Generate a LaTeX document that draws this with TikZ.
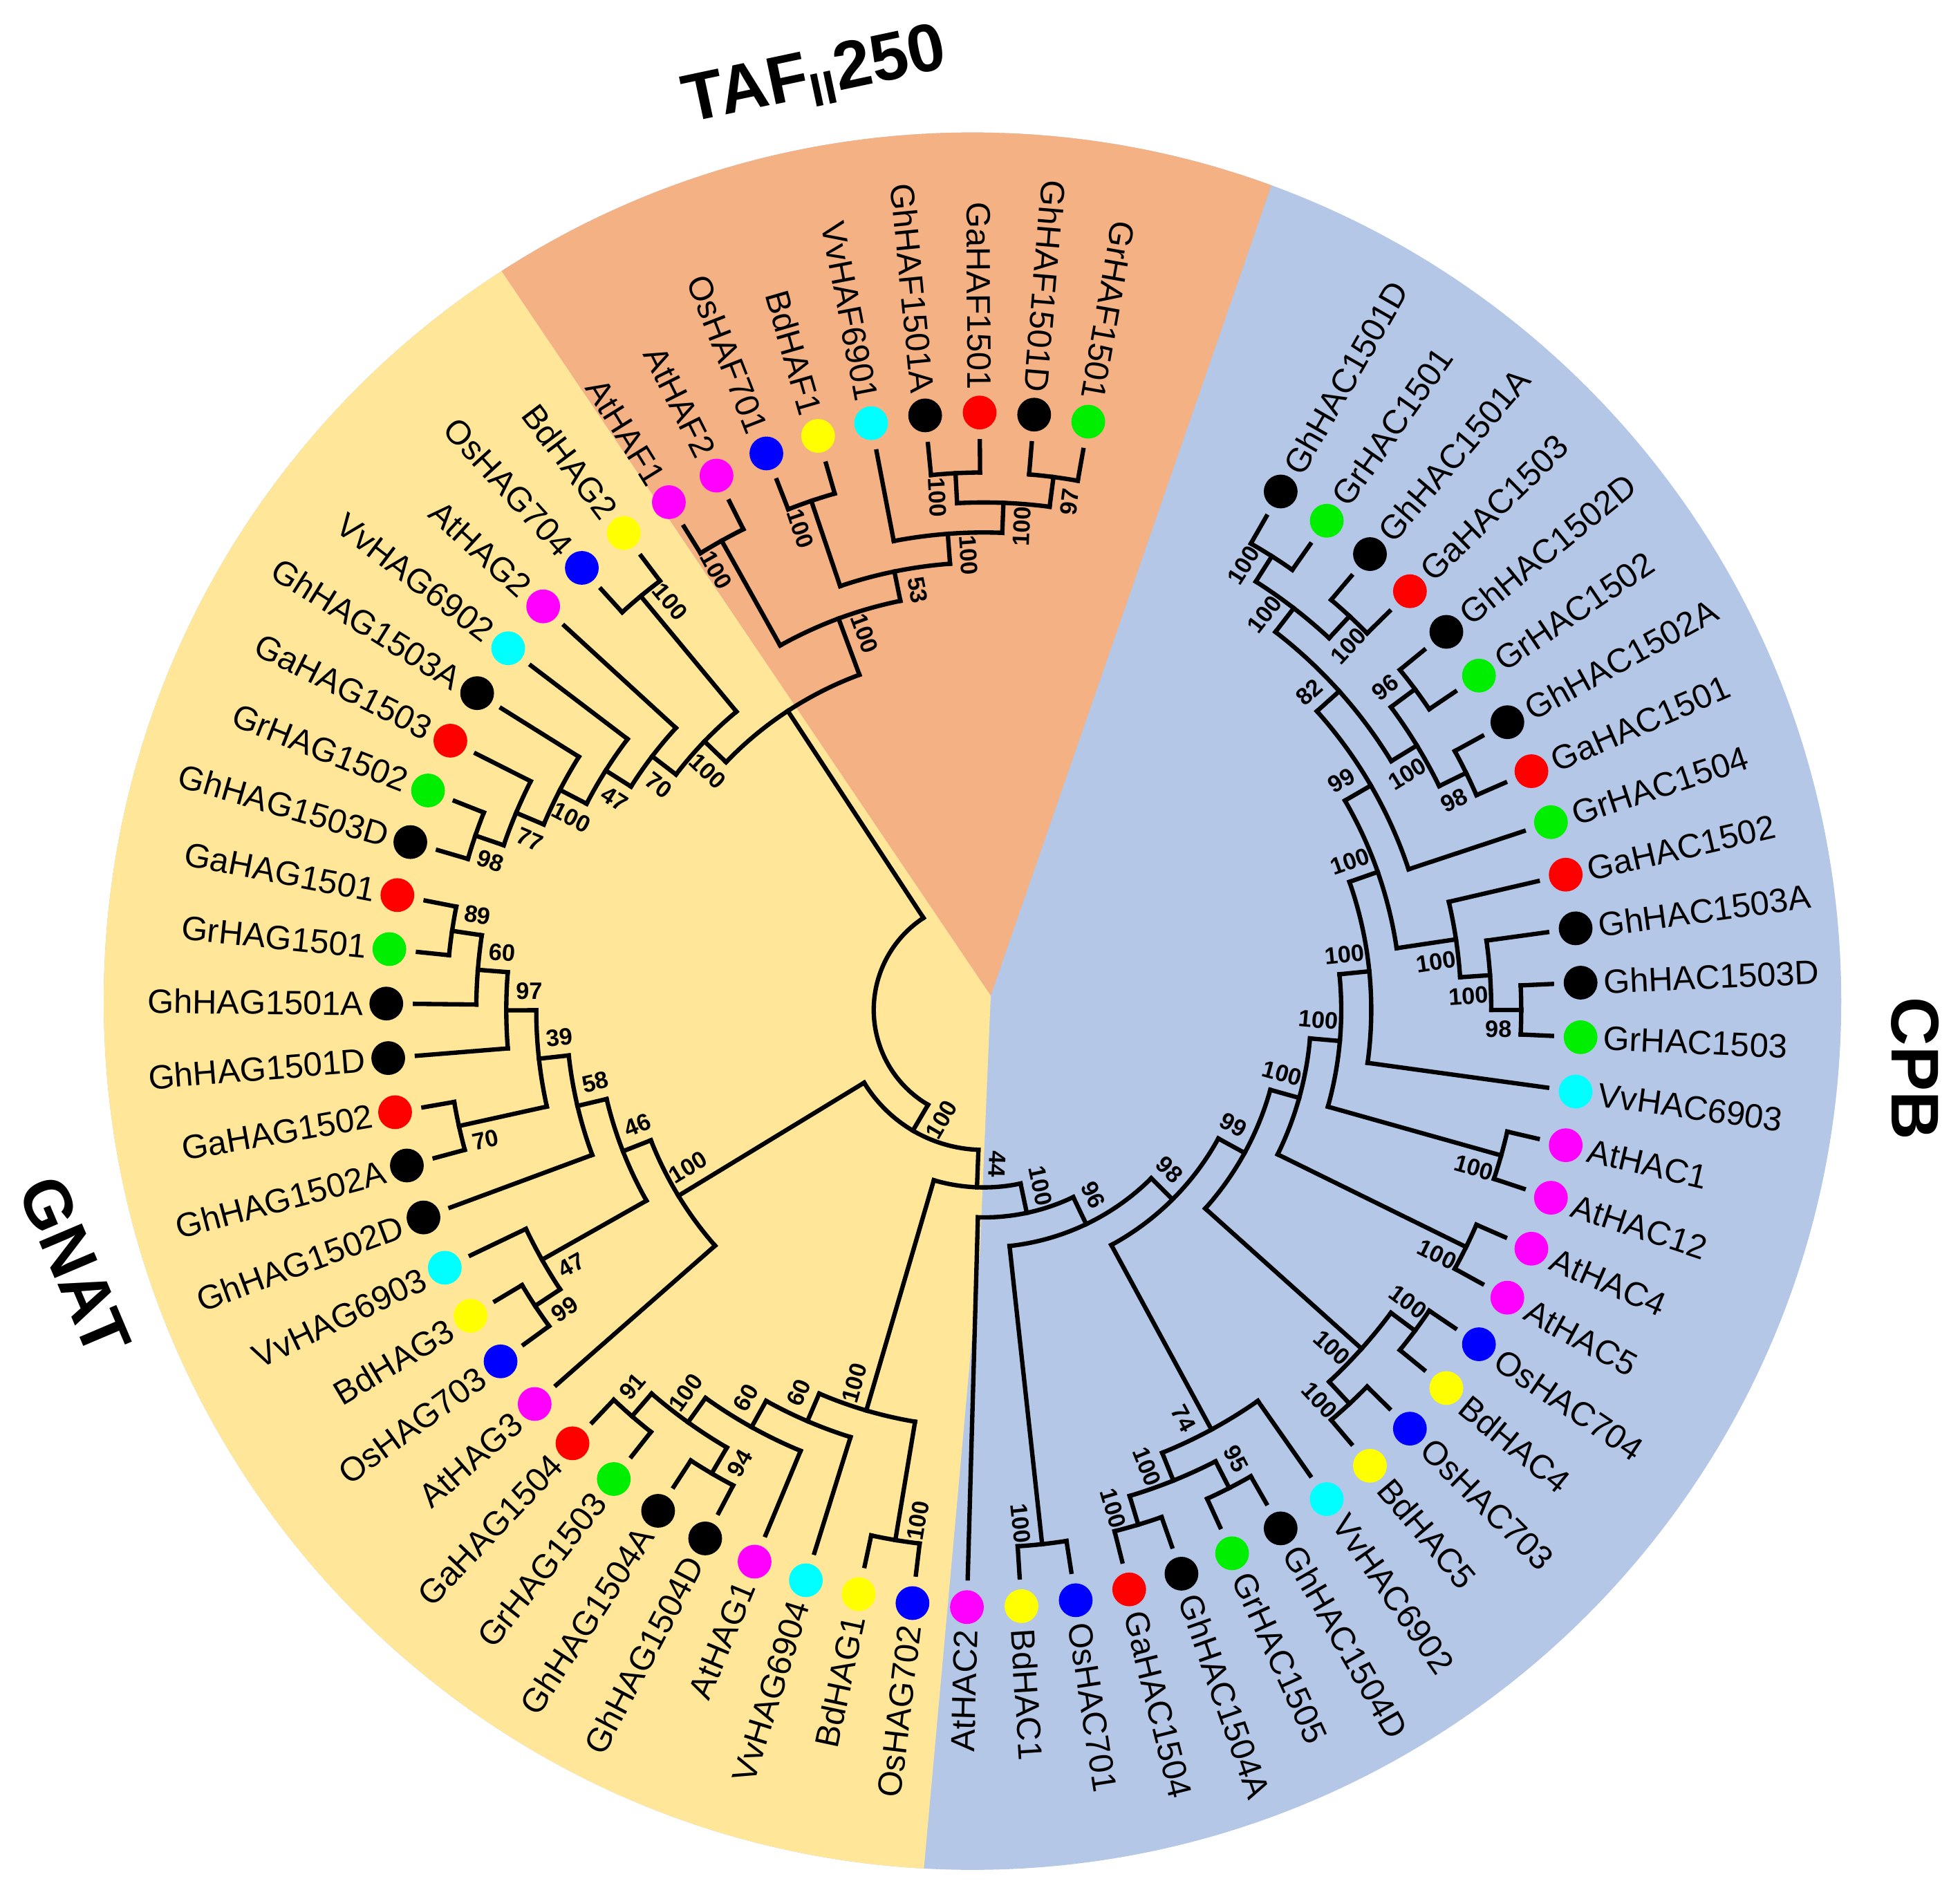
\documentclass[tikz,border=0pt]{standalone}
\usepackage{fontspec}
\setmainfont{Liberation Sans}

\definecolor{cpbblue}{HTML}{B4C7E7}
\definecolor{gnatyellow}{HTML}{FFE699}
\definecolor{taforange}{HTML}{F4B183}
\definecolor{dotgreen}{RGB}{0,238,0}
\definecolor{dotred}{RGB}{255,0,0}
\definecolor{dotblue}{RGB}{0,0,255}
\definecolor{dotyellow}{RGB}{255,255,0}
\definecolor{dotcyan}{RGB}{0,255,255}
\definecolor{dotmagenta}{RGB}{255,0,255}
\definecolor{dotblack}{RGB}{0,0,0}

\tikzset{
  branch/.style={line width=1.75pt, line cap=rect},
  dot/.style={circle, inner sep=0pt, minimum size=13.5pt, draw=none},
  leaflab/.style={inner sep=0pt, font=\fontsize{13.5}{16}\selectfont},
  boot/.style={inner sep=0pt, font=\bfseries\fontsize{9.5}{11}\selectfont},
  group/.style={inner sep=0pt, font=\bfseries\fontsize{27}{32}\selectfont}
}

\newcommand\storeang[2]{\expandafter\xdef\csname tang@#1\endcsname{#2}}
\newcommand\useang[1]{\csname tang@#1\endcsname}

% leaf: index, dot colour, name, radius of parent arc
\newcommand\leaf[4]{%
  \pgfmathsetmacro\lfAng{60.2-5.235*#1}%
  \storeang{L#1}{\lfAng}%
  \coordinate (L#1-b) at (\lfAng:#4);
  \coordinate (L#1-t) at (\lfAng:455);
  \draw[branch] (L#1-b) -- (L#1-t);
  \node[dot, fill=#2] (L#1) at (\lfAng:478) {};
  \pgfmathsetmacro\lfNorm{\lfAng<-180 ? \lfAng+360 : \lfAng}%
  \pgfmathtruncatemacro\lfSide{(\lfNorm>-90 && \lfNorm<70) ? 1 : 0}%
  \ifnum\lfSide=1
    \node[leaflab, anchor=west, rotate=\lfNorm] (L#1-n) at (\lfAng:496) {#3};
  \else
    \pgfmathsetmacro\lfRot{\lfNorm+180}%
    \node[leaflab, anchor=east, rotate=\lfRot] (L#1-n) at (\lfAng:496) {#3};
  \fi
}

% clade: name, radius, child one, child two, parent radius, label side, bootstrap
\newcommand\clade[7]{%
  \pgfmathsetmacro\angA{\useang{#3}}%
  \pgfmathsetmacro\angB{\useang{#4}}%
  \pgfmathsetmacro\angM{(\angA+\angB)/2}%
  \storeang{#1}{\angM}%
  \coordinate (#1) at (\angM:#2);
  \coordinate (#1-b) at (\angM:#5);
  \draw[branch] (#3-b) arc[start angle=\angA, end angle=\angB, radius=#2*0.5pt];
  \draw[branch] (#1) -- (#1-b);
  \ifnum#6=0 \else
    \pgfmathsetmacro\bsAng{\angM+(#6)*880/(#2-18)}%
    \pgfmathsetmacro\bsRad{#2-18}%
    \pgfmathsetmacro\bsNorm{\angM<-180 ? \angM+360 : \angM}%
    \pgfmathsetmacro\bsRot{(\bsNorm>=-95 && \bsNorm<=90) ? \bsNorm : \bsNorm+180}%
    \node[boot, rotate=\bsRot] (#1-v) at (\bsAng:\bsRad) {#7};
  \fi
}

\begin{document}
\begin{tikzpicture}[x=0.5pt,y=0.5pt]
\useasboundingbox (-787,-704) rectangle (781,808);

%Shape: background disc and sectors
\fill[cpbblue] (-9,7) circle[radius=347.5pt];
\begin{scope}
  \clip (-9,7) circle[radius=347.5pt];
  \fill[gnatyellow] (5.6,11.5) -- (-583.3,883.8) -- (-900,883.8) -- (-900,-760) -- (-53,-760) -- (-48,-688) -- (-3,-192) -- cycle;
  \fill[taforange] (5.6,11.5) -- (-583.3,883.8) -- (346.7,996.3) -- cycle;
\end{scope}

% Leaves
\leaf{0}{dotblack}{GhHAC1501D}{430}
\leaf{1}{dotgreen}{GrHAC1501}{430}
\leaf{2}{dotblack}{GhHAC1501A}{430}
\leaf{3}{dotred}{GaHAC1503}{430}
\leaf{4}{dotblack}{GhHAC1502D}{430}
\leaf{5}{dotgreen}{GrHAC1502}{430}
\leaf{6}{dotblack}{GhHAC1502A}{430}
\leaf{7}{dotred}{GaHAC1501}{430}
\leaf{8}{dotgreen}{GrHAC1504}{358}
\leaf{9}{dotred}{GaHAC1502}{382}
\leaf{10}{dotblack}{GhHAC1503A}{406}
\leaf{11}{dotblack}{GhHAC1503D}{430}
\leaf{12}{dotgreen}{GrHAC1503}{430}
\leaf{13}{dotcyan}{VvHAC6903}{310}
\leaf{14}{dotmagenta}{AtHAC1}{430}
\leaf{15}{dotmagenta}{AtHAC12}{430}
\leaf{16}{dotmagenta}{AtHAC4}{430}
\leaf{17}{dotmagenta}{AtHAC5}{430}
\leaf{18}{dotblue}{OsHAC704}{430}
\leaf{19}{dotyellow}{BdHAC4}{430}
\leaf{20}{dotblue}{OsHAC703}{430}
\leaf{21}{dotyellow}{BdHAC5}{430}
\leaf{22}{dotcyan}{VvHAC6902}{382}
\leaf{23}{dotblack}{GhHAC1504D}{430}
\leaf{24}{dotgreen}{GrHAC1505}{430}
\leaf{25}{dotblack}{GhHAC1504A}{430}
\leaf{26}{dotred}{GaHAC1504}{430}
\leaf{27}{dotblue}{OsHAC701}{430}
\leaf{28}{dotyellow}{BdHAC1}{430}
\leaf{29}{dotmagenta}{AtHAC2}{166}
\leaf{30}{dotblue}{OsHAG702}{430}
\leaf{31}{dotyellow}{BdHAG1}{430}
\leaf{32}{dotcyan}{VvHAG6904}{358}
\leaf{33}{dotmagenta}{AtHAG1}{382}
\leaf{34}{dotblack}{GhHAG1504D}{430}
\leaf{35}{dotblack}{GhHAG1504A}{430}
\leaf{36}{dotgreen}{GrHAG1503}{430}
\leaf{37}{dotred}{GaHAG1504}{430}
\leaf{38}{dotmagenta}{AtHAG3}{286}
\leaf{39}{dotblue}{OsHAG703}{430}
\leaf{40}{dotyellow}{BdHAG3}{430}
\leaf{41}{dotcyan}{VvHAG6903}{406}
\leaf{42}{dotblack}{GhHAG1502D}{334}
\leaf{43}{dotblack}{GhHAG1502A}{430}
\leaf{44}{dotred}{GaHAG1502}{430}
\leaf{45}{dotblack}{GhHAG1501D}{382}
\leaf{46}{dotblack}{GhHAG1501A}{406}
\leaf{47}{dotgreen}{GrHAG1501}{430}
\leaf{48}{dotred}{GaHAG1501}{430}
\leaf{49}{dotblack}{GhHAG1503D}{430}
\leaf{50}{dotgreen}{GrHAG1502}{430}
\leaf{51}{dotred}{GaHAG1503}{406}
\leaf{52}{dotblack}{GhHAG1503A}{382}
\leaf{53}{dotcyan}{VvHAG6902}{358}
\leaf{54}{dotmagenta}{AtHAG2}{334}
\leaf{55}{dotblue}{OsHAG704}{430}
\leaf{56}{dotyellow}{BdHAG2}{430}
\leaf{57}{dotmagenta}{AtHAF1}{430}
\leaf{58}{dotmagenta}{AtHAF2}{430}
\leaf{59}{dotblue}{OsHAF701}{430}
\leaf{60}{dotyellow}{BdHAF1}{430}
\leaf{61}{dotcyan}{VvHAF6901}{382}
\leaf{62}{dotblack}{GhHAF1501A}{430}
\leaf{63}{dotred}{GaHAF1501}{430}
\leaf{64}{dotblack}{GhHAF1501D}{430}
\leaf{65}{dotgreen}{GrHAF1501}{430}

% CPB clades
\clade{A01}{430}{L0}{L1}{406}{1}{100}
\clade{A23}{430}{L2}{L3}{406}{-1}{100}
\clade{A0123}{406}{A01}{A23}{382}{1}{100}
\clade{A45}{430}{L4}{L5}{406}{1}{96}
\clade{A67}{430}{L6}{L7}{406}{-1}{98}
\clade{A4567}{406}{A45}{A67}{382}{-1}{100}
\clade{A07}{382}{A0123}{A4567}{358}{1}{82}
\clade{A08}{358}{A07}{L8}{334}{1}{99}
\clade{N98}{430}{L11}{L12}{406}{-1}{98}
\clade{N100a}{406}{L10}{N98}{382}{-1}{100}
\clade{N9}{382}{L9}{N100a}{334}{-1}{100}
\clade{P}{334}{A08}{N9}{310}{1}{100}
\clade{Q}{310}{P}{L13}{286}{1}{100}
\clade{N1415}{430}{L14}{L15}{286}{-1}{100}
\clade{R}{286}{Q}{N1415}{262}{1}{100}
\clade{N1617}{430}{L16}{L17}{262}{-1}{100}
\clade{S}{262}{R}{N1617}{238}{1}{100}
\clade{V}{430}{L18}{L19}{406}{1}{100}
\clade{W}{430}{L20}{L21}{406}{-1}{100}
\clade{U}{406}{V}{W}{238}{-1}{100}
\clade{T}{238}{S}{U}{214}{1}{99}
\clade{Z95}{430}{L23}{L24}{406}{1}{95}
\clade{Z100}{430}{L25}{L26}{406}{-1}{100}
\clade{Y}{406}{Z95}{Z100}{382}{-1}{100}
\clade{X74}{382}{L22}{Y}{214}{-1}{74}
\clade{C98}{214}{T}{X74}{190}{1}{98}
\clade{N2728}{430}{L27}{L28}{190}{-1}{100}
\clade{C96}{190}{C98}{N2728}{166}{1}{96}
\clade{C100}{166}{C96}{L29}{142}{1}{100}

% GNAT clades, lower part
\clade{GB3031}{430}{L30}{L31}{334}{1}{100}
\clade{GB3435}{430}{L34}{L35}{406}{1}{94}
\clade{GB3637}{430}{L36}{L37}{406}{-1}{91}
\clade{GB3437}{406}{GB3435}{GB3637}{382}{-1}{100}
\clade{GB3337}{382}{L33}{GB3437}{358}{-1}{60}
\clade{GB3237}{358}{L32}{GB3337}{334}{-1}{60}
\clade{GB}{334}{GB3031}{GB3237}{142}{-1}{100}
\clade{N44}{142}{GB}{C100}{112}{1}{44}

% GNAT clades, left part
\clade{G89}{430}{L47}{L48}{406}{-1}{89}
\clade{G60}{406}{L46}{G89}{382}{-1}{60}
\clade{G97}{382}{L45}{G60}{358}{-1}{97}
\clade{G70}{430}{L43}{L44}{358}{1}{70}
\clade{G39}{358}{G70}{G97}{334}{-1}{39}
\clade{G58}{334}{L42}{G39}{310}{-1}{58}
\clade{G99}{430}{L39}{L40}{406}{1}{99}
\clade{G47}{406}{G99}{L41}{310}{1}{47}
\clade{G46}{310}{G47}{G58}{286}{-1}{46}
\clade{GM}{286}{L38}{G46}{112}{-1}{100}
\clade{X}{112}{N44}{GM}{88}{1}{100}

% GNAT clades, upper part
\clade{G98}{430}{L49}{L50}{406}{1}{98}
\clade{G77}{406}{G98}{L51}{382}{1}{77}
\clade{G100c}{382}{G77}{L52}{358}{1}{100}
\clade{G47b}{358}{G100c}{L53}{334}{1}{47}
\clade{G70b}{334}{G47b}{L54}{310}{1}{70}
\clade{G100d}{430}{L55}{L56}{310}{-1}{100}
\clade{G100e}{310}{G70b}{G100d}{286}{1}{100}

% TAF clades
\clade{O5758}{430}{L57}{L58}{334}{1}{100}
\clade{O5960}{430}{L59}{L60}{358}{1}{100}
\clade{O6263}{430}{L62}{L63}{406}{1}{100}
\clade{O6465}{430}{L64}{L65}{406}{-1}{97}
\clade{O6265}{406}{O6263}{O6465}{382}{-1}{100}
\clade{O6165}{382}{L61}{O6265}{358}{-1}{100}
\clade{O5965}{358}{O5960}{O6165}{334}{-1}{53}
\clade{T100}{334}{O5758}{O5965}{286}{-1}{100}
\clade{G100f}{286}{G100e}{T100}{88}{0}{}

% root arc
\pgfmathsetmacro\rootA{\useang{X}}
\pgfmathsetmacro\rootB{\useang{G100f}}
\draw[branch] (X-b) arc[start angle=\rootA, end angle=\rootB, radius=44pt];

% Text Node
\node[group, rotate=12] (taf) at (-135,746) {TAF\textsubscript{II}250};
% Text Node
\node[group, rotate=-90] (cpb) at (745,-47) {CPB};
% Text Node
\node[group, rotate=-67] (gnat) at (-727,-205) {GNAT};
\end{tikzpicture}
\end{document}
